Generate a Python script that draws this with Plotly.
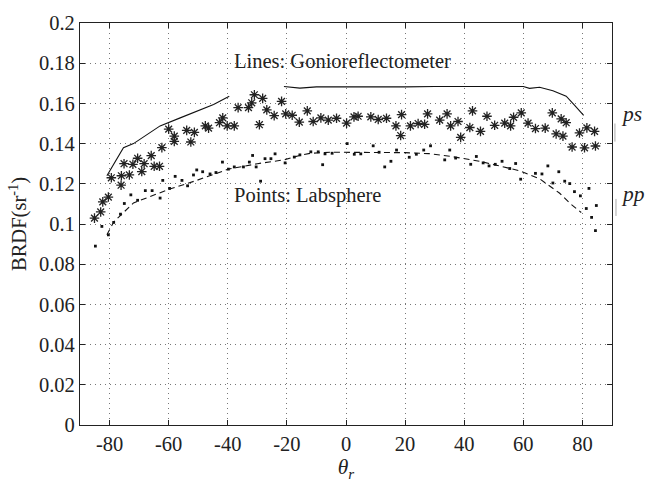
import plotly.graph_objects as go

# Labsphere ps (asterisks)
ps_pts_x = [-85.1, -83.0, -82.3, -80.4, -79.4, -76.1, -76.0, -75.1, -73.3, -72.1, -70.5, -69.1, -68.3,
            -65.9, -64.9, -63.1, -62.3, -60.0, -58.1, -58.1, -53.9, -52.5, -51.3, -47.6, -46.5, -42.8,
            -41.7, -40.2, -37.8, -36.5, -33.0, -31.9, -31.0, -29.3, -28.2, -26.8, -24.3, -21.8, -20.4,
            -18.2, -15.8, -13.1, -11.1, -8.5, -6.0, -3.2, 0.2, 2.7, 4.1, 8.4, 10.9, 13.7, 16.9, 18.5,
            18.8, 21.8, 24.4, 26.6, 27.6, 31.7, 34.2, 35.4, 37.9, 38.8, 41.9, 42.8, 45.5, 47.7, 50.3,
            53.7, 55.7, 56.7, 59.3, 61.6, 64.1, 67.4, 69.8, 71.1, 72.8, 73.4, 74.5, 76.5, 79.0, 80.7,
            81.5, 84.1, 84.4]
ps_pts_y = [0.1029, 0.1060, 0.1110, 0.1134, 0.1230, 0.1193, 0.1240, 0.1300, 0.1244, 0.1297, 0.1327,
            0.1261, 0.1300, 0.1340, 0.1287, 0.1287, 0.1380, 0.1472, 0.1437, 0.1411, 0.1466, 0.1408,
            0.1456, 0.1488, 0.1477, 0.1504, 0.1528, 0.1488, 0.1488, 0.1579, 0.1579, 0.1603, 0.1643,
            0.1494, 0.1625, 0.1568, 0.1539, 0.1610, 0.1548, 0.1541, 0.1507, 0.1563, 0.1510, 0.1528,
            0.1517, 0.1526, 0.1502, 0.1533, 0.1536, 0.1533, 0.1520, 0.1526, 0.1488, 0.1440, 0.1544,
            0.1488, 0.1500, 0.1496, 0.1548, 0.1517, 0.1548, 0.1488, 0.1510, 0.1431, 0.1480, 0.1563,
            0.1461, 0.1536, 0.1491, 0.1502, 0.1488, 0.1531, 0.1553, 0.1502, 0.1475, 0.1477, 0.1553,
            0.1448, 0.1523, 0.1437, 0.1504, 0.1383, 0.1453, 0.1379, 0.1478, 0.1461, 0.1388]

# Labsphere pp (dots)
pp_pts_x = [-84.8, -82.6, -80.4, -78.6, -76.3, -75.0, -72.8, -70.5, -67.9, -65.6, -62.9, -62.0, -59.7,
            -57.8, -55.5, -53.6, -51.6, -50.5, -48.5, -46.0, -44.0, -41.8, -39.8, -37.8, -34.7, -32.7,
            -31.6, -30.4, -28.9, -27.4, -25.4, -24.0, -20.6, -17.5, -15.6, -11.9, -9.4, -7.9, -7.1,
            -4.7, 0.4, 2.8, 5.0, 9.2, 11.2, 13.1, 15.2, 17.1, 21.4, 23.8, 26.3, 28.6, 33.4, 35.1, 37.1,
            42.2, 44.1, 46.4, 48.4, 50.5, 52.8, 55.4, 57.4, 59.1, 64.1, 66.3, 68.3, 70.0, 72.0, 74.0,
            75.7, 77.3, 79.3, 81.3, 82.2, 83.1, 84.4, 84.7]
pp_pts_y = [0.0890, 0.0988, 0.0946, 0.1008, 0.1049, 0.1102, 0.1145, 0.1118, 0.1166, 0.1166, 0.1129,
            0.1217, 0.1177, 0.1237, 0.1217, 0.1190, 0.1244, 0.1269, 0.1260, 0.1249, 0.1256, 0.1308,
            0.1273, 0.1284, 0.1284, 0.1308, 0.1341, 0.1284, 0.1213, 0.1325, 0.1325, 0.1349, 0.1304,
            0.1333, 0.1344, 0.1359, 0.1359, 0.1295, 0.1349, 0.1352, 0.1400, 0.1347, 0.1349, 0.1389,
            0.1357, 0.1284, 0.1312, 0.1368, 0.1332, 0.1347, 0.1368, 0.1389, 0.1319, 0.1368, 0.1328,
            0.1297, 0.1336, 0.1304, 0.1289, 0.1297, 0.1312, 0.1276, 0.1301, 0.1223, 0.1252, 0.1249,
            0.1289, 0.1204, 0.1260, 0.1213, 0.1201, 0.1161, 0.1140, 0.1077, 0.1177, 0.1033, 0.0967,
            0.1092]

# Gonioreflectometer ps (solid line, gap between -40 and -20)
ps_line_x = [-80.9, -75.3, -71.9, -62.9, -56.1, -44.8, -39.5, None,
             -21.0, -15.6, -10.0, 0.0, 10.0, 20.0, 30.0, 40.0, 45.0, 55.0, 60.0, 62.1, 65.5, 70.0,
             74.5, 77.3, 80.4]
ps_line_y = [0.124, 0.138, 0.140, 0.1488, 0.1528, 0.1595, 0.1636, None,
             0.1684, 0.1676, 0.1682, 0.1682, 0.1680, 0.1682, 0.1684, 0.1684, 0.1687, 0.1685, 0.1684,
             0.1675, 0.1680, 0.1663, 0.1636, 0.1591, 0.1541]

# Gonioreflectometer pp (dashed line)
pp_line_x = [-80.9, -78.6, -71.9, -60.0, -50.5, -39.8, -30.0, -21.0, -16.0, -12.0, -5.0, 0.0, 10.0,
             20.0, 28.0, 36.0, 45.2, 58.7, 65.5, 72.3, 76.0, 79.6]
pp_line_y = [0.0946, 0.1010, 0.1105, 0.1172, 0.1217, 0.1273, 0.1300, 0.1319, 0.1340, 0.1352, 0.1357,
             0.1357, 0.1358, 0.1355, 0.1350, 0.1335, 0.1312, 0.1265, 0.1225, 0.1153, 0.1100, 0.1057]

x_ticks = [-80, -60, -40, -20, 0, 20, 40, 60, 80]
y_ticks = [0, 0.02, 0.04, 0.06, 0.08, 0.1, 0.12, 0.14, 0.16, 0.18, 0.2]
y_tick_text = ["0", "0.02", "0.04", "0.06", "0.08", "0.1", "0.12", "0.14", "0.16", "0.18", "0.2"]

FONT = "Liberation Serif, Times New Roman, serif"
FS = 20.5

fig = go.Figure()
fig.add_trace(go.Scatter(x=ps_line_x, y=ps_line_y, mode="lines", connectgaps=False,
                         line=dict(color="#111", width=1.1), showlegend=False))
fig.add_trace(go.Scatter(x=pp_line_x, y=pp_line_y, mode="lines",
                         line=dict(color="#111", width=1.1, dash="6px,4px"), showlegend=False))
fig.add_trace(go.Scatter(x=ps_pts_x, y=ps_pts_y, mode="markers",
                         marker=dict(symbol="asterisk-open", size=8, color="#222",
                                     line=dict(color="#222", width=1.3)), showlegend=False))
fig.add_trace(go.Scatter(x=pp_pts_x, y=pp_pts_y, mode="markers",
                         marker=dict(symbol="square", size=2.8, color="#111"), showlegend=False))

axis_common = dict(showline=True, linecolor="#222", linewidth=1.3, mirror="ticks",
                   ticks="inside", ticklen=5, tickcolor="#222", tickwidth=1,
                   showgrid=True, gridcolor="#777", griddash="1px,4px", gridwidth=1,
                   zeroline=False, tickfont=dict(family=FONT, size=FS, color="#222"))

fig.update_xaxes(range=[-90, 90], tickvals=x_ticks, ticktext=[str(v) for v in x_ticks],
                 title=dict(text="<i>θ<sub>r</sub></i>", font=dict(family=FONT, size=FS + 1, color="#222"),
                            standoff=5),
                 **axis_common)
fig.update_yaxes(range=[0, 0.2], tickvals=y_ticks, ticktext=y_tick_text,
                 title=dict(text="BRDF(sr<sup>-1</sup>)", font=dict(family=FONT, size=FS, color="#222"),
                            standoff=6),
                 **axis_common)

fig.add_annotation(x=-38.5, y=0.1811, xref="x", yref="y", text="Lines: Gonioreflectometer",
                   showarrow=False, xanchor="left", yanchor="middle",
                   font=dict(family=FONT, size=FS, color="#222"))
fig.add_annotation(x=-38.5, y=0.1142, xref="x", yref="y", text="Points: Labsphere",
                   showarrow=False, xanchor="left", yanchor="middle",
                   font=dict(family=FONT, size=FS, color="#222"))
fig.add_annotation(x=1.014, y=0.1545, xref="paper", yref="y", text="<i>ps</i>",
                   showarrow=False, xanchor="left", yanchor="middle",
                   font=dict(family=FONT, size=FS + 1, color="#222"))
fig.add_annotation(x=1.014, y=0.1150, xref="paper", yref="y", text="<i>pp</i>",
                   showarrow=False, xanchor="left", yanchor="middle",
                   font=dict(family=FONT, size=FS + 1, color="#222"))

fig.add_shape(type="line", xref="paper", yref="y", x0=1.0055, x1=1.0055, y0=0.1500, y1=0.1410,
              line=dict(color="#aaa", width=1))
fig.add_shape(type="line", xref="paper", yref="y", x0=1.0075, x1=1.0075, y0=0.1125, y1=0.1040,
              line=dict(color="#aaa", width=1))

fig.update_layout(width=645, height=487, margin=dict(l=80, r=33, t=16, b=53),
                  plot_bgcolor="white", paper_bgcolor="white",
                  font=dict(family=FONT, color="#222"))

fig.write_html("out.html")
